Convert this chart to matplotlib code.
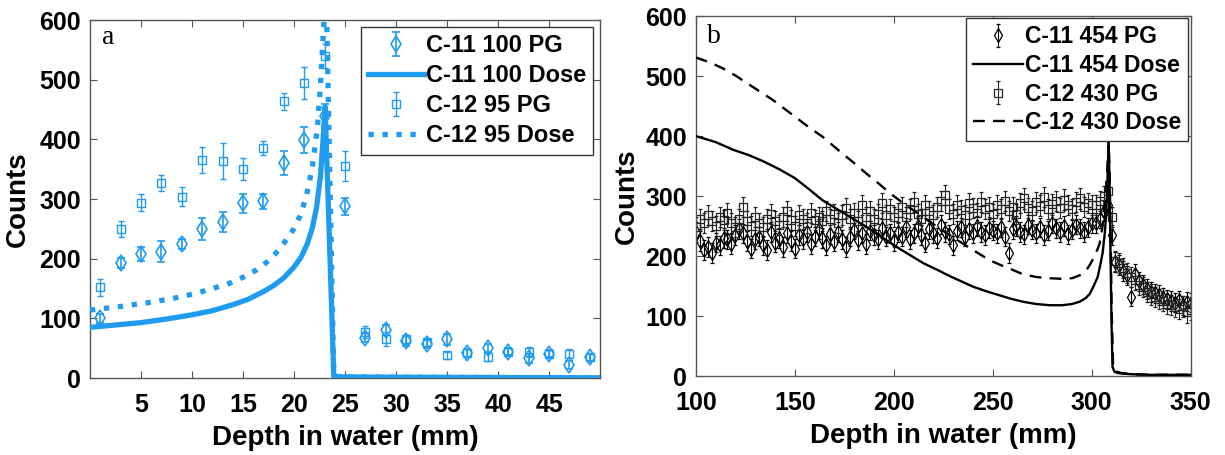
import numpy as np
import matplotlib
matplotlib.use('Agg')
import matplotlib.pyplot as plt

plt.rcParams['font.family'] = ['Liberation Sans', 'DejaVu Sans']
plt.rcParams['font.weight'] = 'bold'
plt.rcParams['axes.labelweight'] = 'bold'

blue = '#1f9bf0'
frame = '#555555'

## Panel a: PG points (every 2 mm) and dose curves
depth_a = [1, 3, 5, 7, 9, 11, 13, 15, 17, 19, 21, 23, 25,
           27, 29, 31, 33, 35, 37, 39, 41, 43, 45, 47, 49]
c11_pg_a = [100, 193, 208, 212, 225, 250, 262, 293, 296, 361, 399, 440, 288,
            68, 81, 62, 57, 65, 42, 50, 44, 33, 41, 22, 35]
c11_err_a = [8, 8, 12, 18, 8, 18, 17, 16, 13, 20, 22, 20, 14,
             8, 8, 8, 7, 9, 6, 7, 6, 8, 6, 7, 6]
c12_pg_a = [152, 250, 294, 327, 304, 365, 364, 350, 385, 464, 494, 539, 355,
            78, 66, 65, 60, 38, 42, 36, 44, 44, 41, 41, 35]
c12_err_a = [14, 14, 14, 13, 16, 22, 30, 18, 12, 14, 27, 20, 25,
             10, 12, 8, 7, 6, 6, 7, 6, 8, 6, 8, 6]

c11_dose_x = [0, 2.5, 5, 7.5, 10, 12, 14, 15.5, 17, 18, 19, 20, 20.7, 21.3, 21.8,
              22.2, 22.6, 22.85, 23.05, 23.9, 25, 30, 40, 50]
c11_dose_y = [85, 89, 93, 99, 106, 113, 123, 132, 145, 155, 168, 186, 203, 225, 252,
              285, 340, 400, 455, 3, 2, 1.5, 1, 0.5]
c12_dose_x = [0, 3, 5.5, 8, 10.4, 12, 13.7, 15, 16.3, 17.3, 18.2, 19, 19.9, 20.6,
              21.2, 21.8, 22.3, 22.6, 22.95, 23.15, 23.9, 25, 30, 40, 50]
c12_dose_y = [114, 120, 126, 133, 142, 150, 159, 169, 181, 194, 209, 226, 248, 272,
              304, 354, 421, 494, 600, 650, 3, 2, 1.5, 1, 0.5]

## Panel b: PG points from 100 to 350 mm, 2 mm bins
depth_b = np.arange(100, 351, 2)
c11_pg_b = [240, 225, 210, 215, 205, 222, 218, 230, 228, 220, 235, 245, 238, 225, 212, 228,
            232, 218, 210, 240, 222, 230, 215, 238, 225, 212, 235, 228, 240, 220, 232,
            245, 230, 218, 236, 224, 240, 228, 215, 232, 244, 226, 238, 220, 242, 235, 228, 246, 232, 238, 225,
            240, 232, 248, 228, 238, 250, 235, 222, 245, 238, 230, 252, 240, 236, 218, 242, 248, 232, 245, 238,
            250, 240, 235, 246, 242,
            238, 248, 232, 205, 245, 250, 240, 236, 252, 244, 238, 248, 235, 242, 255, 246, 240, 250, 236, 244,
            252, 246, 240, 248, 255,
            255, 262, 275, 285, 235, 190, 185, 175, 168, 132, 170, 158, 152, 145, 140, 138, 135, 130, 128, 125,
            122, 126, 118, 124, 122]
c12_pg_b = [248, 262, 255, 268, 258, 250, 265, 260, 272, 255, 248, 262, 282, 258, 250, 265,
            255, 248, 262, 270, 258, 252, 265, 275, 260, 250, 268, 262, 255, 272, 260,
            265, 258, 275, 262, 270, 255, 268, 280, 262, 272, 258, 285, 265, 275, 262, 270, 288, 268, 278, 265,
            272, 282, 265, 278, 290, 270, 262, 285, 275, 268, 282, 292, 302, 278, 270, 285, 276, 268, 288, 280,
            272, 290, 278, 282, 270,
            285, 278, 292, 275, 282, 270, 288, 296, 280, 275, 290, 284, 298, 278, 286, 292, 280, 294, 285, 278,
            290, 296, 282, 288, 285,
            285, 292, 300, 308, 265, 192, 188, 180, 172, 165, 160, 152, 148, 140, 136, 132, 128, 125, 120, 118,
            115, 112, 116, 106, 110]
c11_err_b = 16
c12_err_b = 17

c11_dose_bx = [100, 110, 119, 127, 134, 142, 150, 157, 164, 171, 178, 185, 191, 197, 203, 209,
               215, 222, 228, 234, 240, 247, 253, 259, 265, 272, 279, 285, 290, 294, 297, 299,
               301, 303, 304, 305.5, 306.6, 307.2, 307.7, 308.1, 308.5, 309, 309.5, 310, 310.5,
               311.5, 313, 316, 320, 330, 350]
c11_dose_by = [400, 390, 377, 368, 358, 345, 330, 312, 293, 279, 265, 251, 238, 225, 212, 200,
               188, 177, 167, 158, 149, 141, 135, 129, 124, 120, 118, 118, 120, 124, 130, 137,
               150, 165, 180, 205, 238, 265, 300, 345, 385, 330, 200, 90, 15,
               7, 5, 4, 3, 2, 2]
c12_dose_bx = [100, 107, 113.6, 120, 126, 132, 139, 145, 151, 157, 164, 169, 174, 180, 186, 192,
               198, 206, 215, 223, 232, 240, 248.5, 254, 258.6, 265, 272, 278.8, 285, 290, 294, 297,
               299, 301, 303, 304, 305.5, 306.6, 307.2, 307.8, 308.2, 308.6, 309, 309.5, 310,
               310.8, 312, 315, 320, 330, 350]
c12_dose_by = [531, 523, 513, 501, 488, 475, 460, 445, 430, 415, 399, 385, 371, 355, 338, 322,
               305, 285, 265, 246, 227, 210, 193, 185, 179, 170, 165, 163, 162, 163, 168, 175,
               185, 197, 212, 221, 250, 293, 315, 340, 365, 390, 340, 250, 120,
               15, 8, 5, 3, 2, 2]

fig = plt.figure(figsize=(12.25, 4.55), dpi=100)
ax1 = fig.add_axes([0.0735, 0.169, 0.4163, 0.787])
ax2 = fig.add_axes([0.568, 0.1736, 0.404, 0.791])

# panel a
h1 = ax1.errorbar(depth_a, c11_pg_a, yerr=c11_err_a, fmt='d', ls='none', color=blue,
                  mfc='none', mec=blue, ms=8, mew=1.2, elinewidth=1.2, capsize=3,
                  label='C-11 100 PG', zorder=2)
h2, = ax1.plot(c11_dose_x, c11_dose_y, '-', color=blue, lw=3.8, label='C-11 100 Dose', zorder=3)
h3 = ax1.errorbar(depth_a, c12_pg_a, yerr=c12_err_a, fmt='s', ls='none', color=blue,
                  mfc='none', mec=blue, ms=5.5, mew=1.0, elinewidth=1.0, capsize=2,
                  label='C-12 95 PG', zorder=2)
h4, = ax1.plot(c12_dose_x, c12_dose_y, ':', color=blue, lw=3.8, label='C-12 95 Dose', zorder=3)

ax1.set_xlim(0, 50)
ax1.set_ylim(0, 600)
ax1.set_xticks([5, 10, 15, 20, 25, 30, 35, 40, 45])
ax1.set_yticks([0, 100, 200, 300, 400, 500, 600])
ax1.text(0.024, 0.933, 'a', transform=ax1.transAxes, family='Liberation Serif',
         fontweight='normal', fontsize=20)
ax1.legend(handles=[h1, h2, h3, h4], loc='upper right', fontsize=17, handlelength=2.4,
           handletextpad=0.05, labelspacing=0.3, borderaxespad=0.3, borderpad=0.3,
           fancybox=False, framealpha=1, edgecolor='#333333')

# panel b
g1 = ax2.errorbar(depth_b, c11_pg_b, yerr=c11_err_b, fmt='d', ls='none', color='black',
                  mfc='none', mec='black', ms=7, mew=0.9, elinewidth=0.8, capsize=1.5,
                  label='C-11 454 PG', zorder=2)
g2, = ax2.plot(c11_dose_bx, c11_dose_by, '-', color='black', lw=1.7, label='C-11 454 Dose', zorder=3)
g3 = ax2.errorbar(depth_b, c12_pg_b, yerr=c12_err_b, fmt='s', ls='none', color='#222222',
                  mfc='none', mec='#222222', ms=5.5, mew=0.9, elinewidth=0.8, capsize=1.5,
                  label='C-12 430 PG', zorder=2)
g4, = ax2.plot(c12_dose_bx, c12_dose_by, '--', color='black', lw=1.7, dashes=(5, 3.5),
               label='C-12 430 Dose', zorder=3)

ax2.set_xlim(100, 350)
ax2.set_ylim(0, 600)
ax2.set_xticks([100, 150, 200, 250, 300, 350])
ax2.set_yticks([0, 100, 200, 300, 400, 500, 600])
ax2.text(0.022, 0.925, 'b', transform=ax2.transAxes, family='Liberation Serif',
         fontweight='normal', fontsize=20)
ax2.legend(handles=[g1, g2, g3, g4], loc='upper right', fontsize=16.5, handlelength=2.2,
           handletextpad=0.1, labelspacing=0.25, borderaxespad=0.1, borderpad=0.3,
           fancybox=False, framealpha=1, edgecolor='#333333')

for ax, lx in ((ax1, -0.116), (ax2, -0.113)):
    for sp in ax.spines.values():
        sp.set_color(frame)
        sp.set_linewidth(1.0)
    ax.tick_params(direction='in', top=True, right=True, length=5, width=0.8,
                   color=frame, labelsize=18)
    ax.tick_params(axis='x', pad=11)
    ax.tick_params(axis='y', pad=6.5)
    ax.set_xlabel('Depth in water (mm)', fontsize=20)
    ax.set_ylabel('Counts', fontsize=20)
    ax.yaxis.set_label_coords(lx, 0.5)
    ax.xaxis.set_label_coords(0.5, -0.13)

fig.savefig('out.png', dpi=100)
